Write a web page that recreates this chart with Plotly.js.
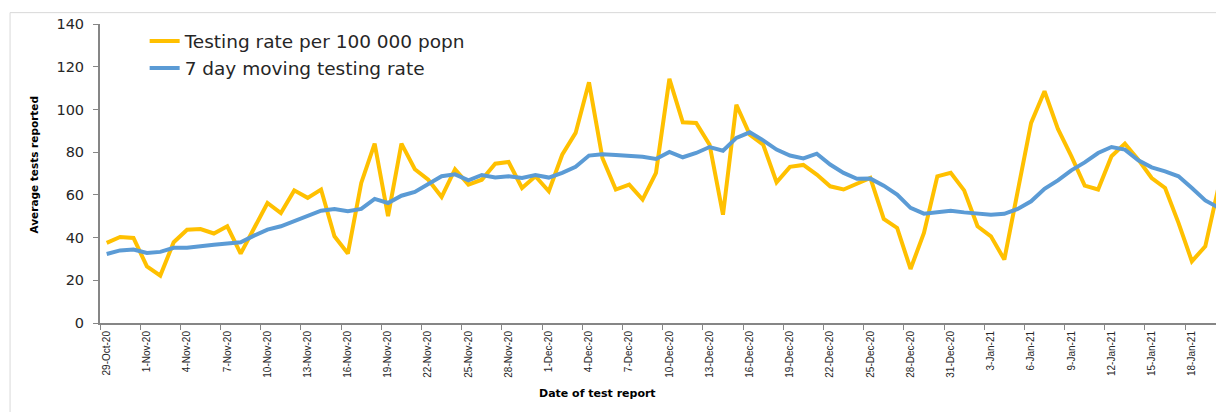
<!DOCTYPE html>
<html>
<head>
<meta charset="utf-8">
<script src="https://cdn.plot.ly/plotly-3.0.1.min.js"></script>
<style>
  html, body { margin: 0; padding: 0; background: #ffffff; }
  #chart { width: 1216px; height: 412px; }
</style>
</head>
<body>
<div id="chart"></div>
<script>
const dates = [
  "29-Oct-20","30-Oct-20","31-Oct-20",
  "1-Nov-20","2-Nov-20","3-Nov-20","4-Nov-20","5-Nov-20","6-Nov-20","7-Nov-20","8-Nov-20","9-Nov-20","10-Nov-20",
  "11-Nov-20","12-Nov-20","13-Nov-20","14-Nov-20","15-Nov-20","16-Nov-20","17-Nov-20","18-Nov-20","19-Nov-20","20-Nov-20",
  "21-Nov-20","22-Nov-20","23-Nov-20","24-Nov-20","25-Nov-20","26-Nov-20","27-Nov-20","28-Nov-20","29-Nov-20","30-Nov-20",
  "1-Dec-20","2-Dec-20","3-Dec-20","4-Dec-20","5-Dec-20","6-Dec-20","7-Dec-20","8-Dec-20","9-Dec-20","10-Dec-20",
  "11-Dec-20","12-Dec-20","13-Dec-20","14-Dec-20","15-Dec-20","16-Dec-20","17-Dec-20","18-Dec-20","19-Dec-20","20-Dec-20",
  "21-Dec-20","22-Dec-20","23-Dec-20","24-Dec-20","25-Dec-20","26-Dec-20","27-Dec-20","28-Dec-20","29-Dec-20","30-Dec-20","31-Dec-20",
  "1-Jan-21","2-Jan-21","3-Jan-21","4-Jan-21","5-Jan-21","6-Jan-21","7-Jan-21","8-Jan-21","9-Jan-21","10-Jan-21",
  "11-Jan-21","12-Jan-21","13-Jan-21","14-Jan-21","15-Jan-21","16-Jan-21","17-Jan-21","18-Jan-21","19-Jan-21","20-Jan-21"
];

const testingRate = [
  37.5, 40.3, 39.8, 26.5, 22.2, 37.8, 43.7, 44.0, 41.9, 45.3,
  32.5, 44.3, 56.2, 51.5, 62.1, 58.6, 62.5, 40.6, 32.5, 65.6,
  84.0, 50.0, 84.0, 72.0, 67.1, 59.0, 72.0, 64.8, 67.1, 74.6,
  75.4, 63.2, 68.7, 61.7, 78.8, 89.0, 112.7, 77.3, 62.5, 64.8,
  57.8, 70.3, 114.3, 94.0, 93.7, 83.5, 50.7, 102.2, 88.2, 83.5,
  65.9, 73.1, 74.0, 69.5, 64.0, 62.5, 65.1, 67.9, 48.7, 44.5,
  25.3, 42.2, 68.7, 70.3, 62.1, 45.3, 40.6, 29.7, 61.7, 93.7,
  108.5, 90.9, 78.1, 64.3, 62.5, 78.1, 84.0, 76.5, 67.9, 63.2,
  46.9, 28.9, 35.9, 64.0
];

const movingRate = [
  32.3, 34.0, 34.4, 32.8, 33.3, 35.2, 35.2, 36.1, 36.6, 37.2,
  37.8, 40.9, 43.7, 45.3, 47.9, 50.3, 52.6, 53.4, 52.3, 53.4,
  58.1, 56.2, 59.6, 61.4, 64.8, 68.7, 69.6, 66.8, 69.3, 68.1,
  68.7, 67.9, 69.3, 68.1, 70.3, 73.1, 78.4, 79.0, 78.7, 78.4,
  77.8, 76.8, 80.1, 77.6, 79.6, 82.4, 80.7, 86.7, 89.3, 85.5,
  81.2, 78.4, 77.1, 79.3, 74.2, 70.3, 67.5, 67.6, 64.3, 60.1,
  53.9, 51.2, 51.8, 52.5, 51.8, 51.1, 50.7, 51.1, 53.4, 57.0,
  62.8, 66.8, 71.5, 75.2, 79.6, 82.4, 81.2, 76.2, 72.9, 71.0,
  68.7, 63.2, 57.4, 54.0
];

const seriesNames = ["Testing rate per 100 000 popn", "7 day moving testing rate"];
const yTicks = [0, 20, 40, 60, 80, 100, 120, 140];

const axisGrey = "#868686";
const textCol = "#262626";

const traces = [
  {
    type: "scatter", mode: "lines", x: dates, y: testingRate, name: seriesNames[0],
    legendgroup: "a",
    line: { color: "#FFC000", width: 4, shape: "linear" }
  },
  {
    type: "scatter", mode: "lines", x: dates, y: movingRate, name: seriesNames[1],
    legendgroup: "b",
    line: { color: "#5B9BD5", width: 4, shape: "linear" }
  }
];

const layout = {
  width: 1216, height: 412,
  margin: { l: 100, r: 0, t: 24, b: 89, pad: 0 },
  paper_bgcolor: "#ffffff", plot_bgcolor: "rgba(0,0,0,0)",
  showlegend: true,
  legend: {
    x: 0.040, y: 1.005, xanchor: "left", yanchor: "top",
    bgcolor: "rgba(0,0,0,0)", borderwidth: 0,
    font: { family: "DejaVu Sans", size: 18.5, color: textCol },
    traceorder: "grouped", tracegroupgap: 0
  },
  xaxis: {
    type: "category",
    range: [-0.5, 82.8],
    tickmode: "linear", tick0: 0, dtick: 3,
    tickson: "boundaries",
    tickangle: -90,
    ticks: "outside", ticklen: 5, tickcolor: axisGrey, tickwidth: 1,
    showline: true, linecolor: axisGrey, linewidth: 2,
    showgrid: false, zeroline: false,
    ticklabelstandoff: 2,
    tickfont: { family: "Liberation Sans Narrow, Liberation Sans", size: 10, color: textCol },
    fixedrange: true
  },
  yaxis: {
    range: [0, 140],
    tickmode: "array", tickvals: yTicks,
    ticks: "outside", ticklen: 5, tickcolor: axisGrey, tickwidth: 1,
    showline: true, linecolor: axisGrey, linewidth: 2,
    showgrid: false, zeroline: false,
    ticklabelstandoff: 6,
    tickfont: { family: "DejaVu Sans", size: 14.5, color: textCol },
    fixedrange: true
  },
  annotations: [
    {
      text: "<b>Average tests reported</b>", xref: "paper", yref: "paper",
      x: -0.066, y: 0.528, textangle: -90, showarrow: false,
      font: { family: "DejaVu Sans", size: 10.5, color: "#000000" }
    },
    {
      text: "<b>Date of test report</b>", xref: "paper", yref: "paper",
      x: 0.446, y: -0.264, showarrow: false,
      font: { family: "DejaVu Sans", size: 11, color: "#000000" }
    }
  ],
  shapes: [
    {
      type: "rect", xref: "paper", yref: "paper",
      x0: -0.0806, x1: 1.2, y0: -0.6, y1: 1.038,
      line: { color: "#d9d9d9", width: 1 }, layer: "below"
    }
  ]
};

Plotly.newPlot("chart", traces, layout, { displayModeBar: false, staticPlot: true });
</script>
</body>
</html>
